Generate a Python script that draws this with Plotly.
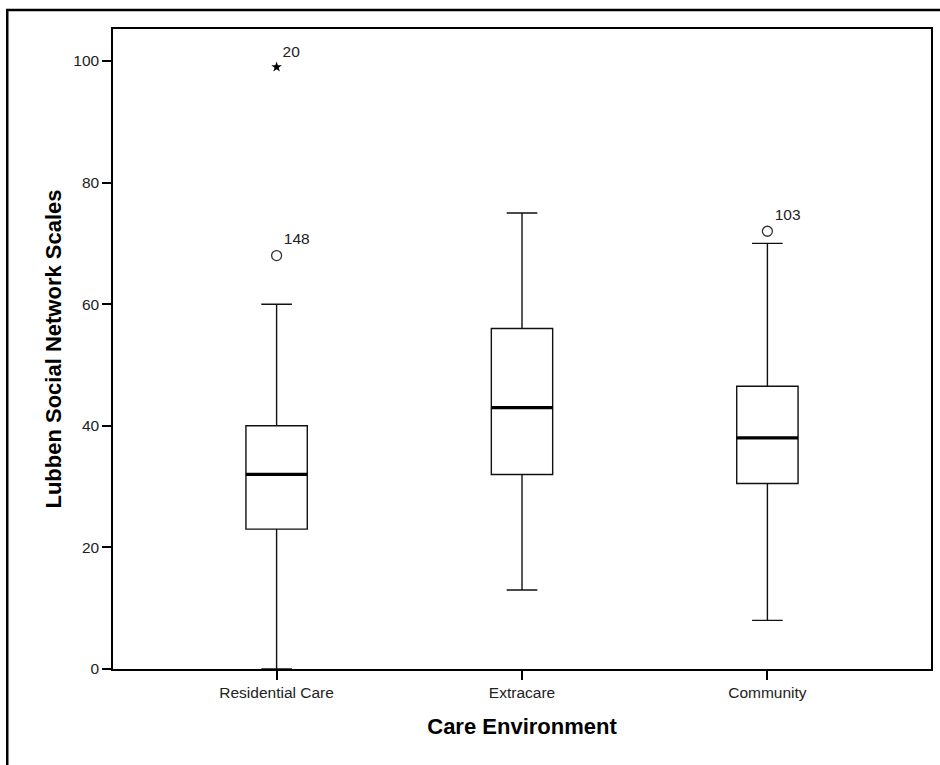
import plotly.graph_objects as go

# ---- data ----
categories = ["Residential Care", "Extracare", "Community"]
q1_vals = [23, 32, 30.5]
median_vals = [32, 43, 38]
q3_vals = [40, 56, 46.5]
lower_whisker = [0, 13, 8]
upper_whisker = [60, 75, 70]

outlier_cat = ["Residential Care", "Residential Care", "Community"]
outlier_val = [99, 68, 72]
outlier_id = ["20", "148", "103"]
outlier_extreme = [True, False, False]

x_title = "Care Environment"
y_title = "Lubben Social Network Scales"

# ---- figure ----
pos = list(range(len(categories)))
box_w = 0.25
font_family = "Liberation Sans, Arial, sans-serif"

fig = go.Figure()
fig.add_trace(go.Box(
    x=pos, q1=q1_vals, median=median_vals, q3=q3_vals,
    lowerfence=lower_whisker, upperfence=upper_whisker,
    width=box_w, whiskerwidth=0.5,
    fillcolor="white", line=dict(color="#111", width=1.4),
    boxpoints=False, showlegend=False, hoverinfo="skip",
))

# thick median lines
mx, my = [], []
for p, m in zip(pos, median_vals):
    mx += [p - box_w / 2, p + box_w / 2, None]
    my += [m, m, None]
fig.add_trace(go.Scatter(x=mx, y=my, mode="lines",
                         line=dict(color="black", width=3.2),
                         showlegend=False, hoverinfo="skip"))

# outliers
for cat, v, lab, ext in zip(outlier_cat, outlier_val, outlier_id, outlier_extreme):
    fig.add_trace(go.Scatter(
        x=[categories.index(cat)], y=[v], mode="markers+text",
        text=[lab], textposition="top right",
        textfont=dict(family=font_family, size=15.5, color="#222"),
        marker=dict(symbol="star" if ext else "circle-open",
                    size=8 if ext else 10,
                    color="black" if ext else "#333",
                    line=dict(color="black" if ext else "#333", width=1.3 if not ext else 0)),
        showlegend=False, hoverinfo="skip", cliponaxis=False,
    ))

W, H = 940, 765
ml, mr, mt, mb = 113, 7, 29, 96
pw, ph = W - ml - mr, H - mt - mb

# outer frame (only left/top visible in the crop)
fig.add_shape(type="rect", xref="paper", yref="paper",
              x0=(7 - ml) / pw, x1=1.2, y0=-0.5, y1=1 + (mt - 10) / ph,
              line=dict(color="black", width=2.5), layer="above")

fig.update_layout(
    width=W, height=H,
    margin=dict(l=ml, r=mr, t=mt, b=mb),
    paper_bgcolor="white", plot_bgcolor="white",
    font=dict(family=font_family, color="#222"),
    xaxis=dict(
        range=[-0.6667, len(categories) - 1 + 0.6667],
        tickmode="array", tickvals=pos, ticktext=categories,
        ticks="outside", ticklen=9, tickwidth=1.5, tickcolor="black",
        tickfont=dict(size=15.5, color="#222"),
        showline=True, linecolor="black", linewidth=1.5, mirror=True,
        showgrid=False, zeroline=False,
        title=dict(text=x_title, font=dict(size=22, color="black", family=font_family), standoff=18),
    ),
    yaxis=dict(
        range=[0, 105.26], dtick=20, tick0=0,
        ticks="outside", ticklen=9, tickwidth=1.5, tickcolor="black",
        tickfont=dict(size=15.5, color="#222"),
        showline=True, linecolor="black", linewidth=1.5, mirror=True,
        showgrid=False, zeroline=False,
        title=dict(text=y_title, font=dict(size=22, color="black", family=font_family), standoff=6),
    ),
)

fig.update_xaxes(title_font_weight="bold")
fig.update_yaxes(title_font_weight="bold")

fig.write_html("out.html", config={"displayModeBar": False},
               post_script="document.body.style.margin='0';document.body.style.overflow='hidden';")
